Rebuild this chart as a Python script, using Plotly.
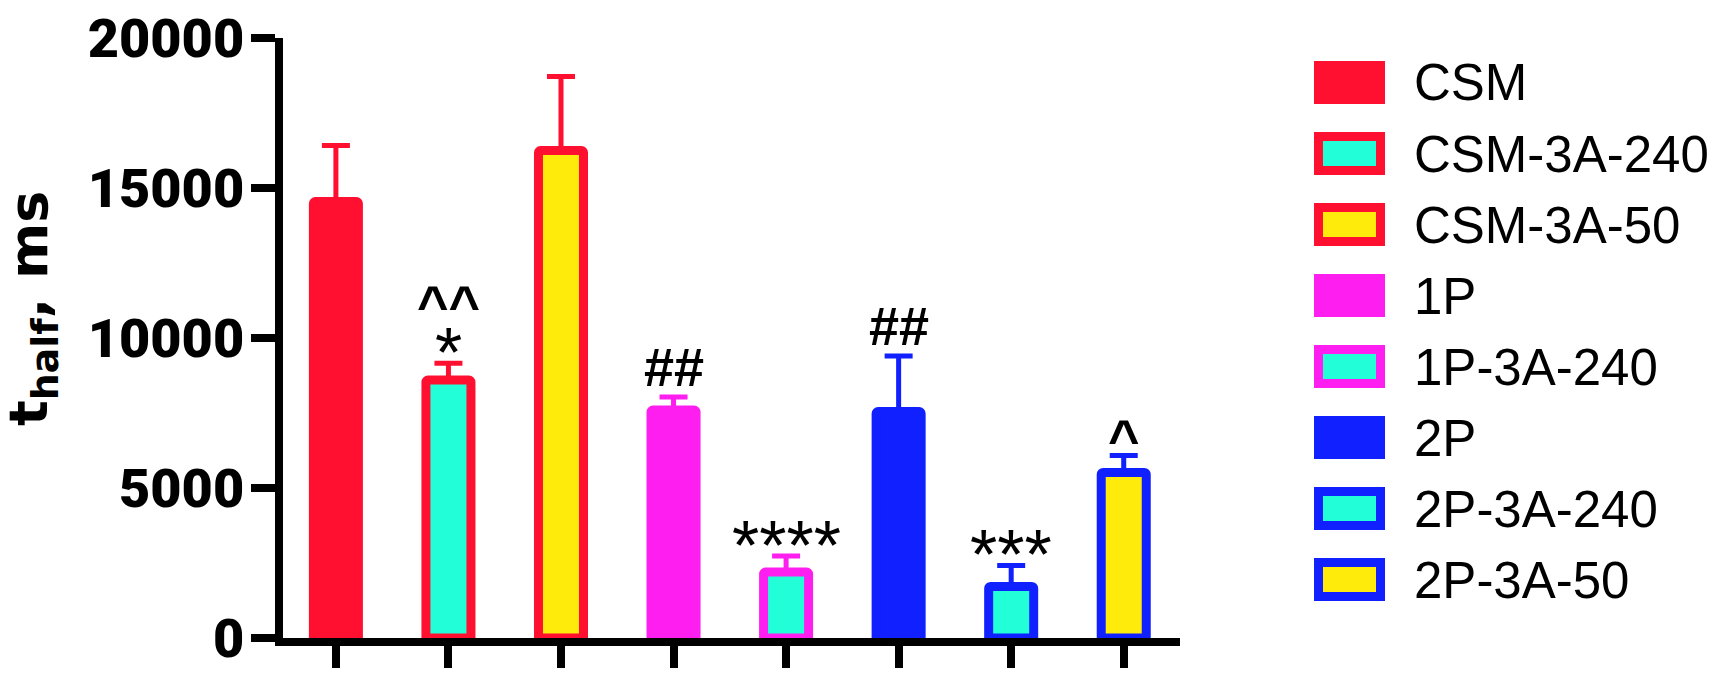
import plotly.graph_objects as go

# data
categories = ["CSM", "CSM-3A-240", "CSM-3A-50", "1P", "1P-3A-240", "2P", "2P-3A-240", "2P-3A-50"]
means = [14550, 8600, 16250, 7600, 2200, 7550, 1720, 5520]
sems = [1870, 560, 2470, 430, 530, 1850, 700, 560]
star_marks = ["", "*", "", "", "****", "", "***", ""]
other_marks = ["", "^^", "", "##", "", "##", "", "^"]
y_ticks = [0, 5000, 10000, 15000, 20000]

RED = "#FF1030"
CYAN = "#22FFD8"
YELLOW = "#FFEB0B"
MAGENTA = "#FF1EF0"
BLUE = "#1020FF"
edge_colors = [RED, RED, RED, MAGENTA, MAGENTA, BLUE, BLUE, BLUE]
fill_colors = [RED, CYAN, YELLOW, MAGENTA, CYAN, BLUE, CYAN, YELLOW]

W, H = 1721, 678
OFF = 8  # the page body adds an 8px margin, so everything is pulled back by it
L, R, T, B = 283 - OFF, 1180 - OFF, 38 - OFF, 638 - OFF   # plot area in pixels


def px_to_paper(x, y):
    # x, y are positions in the screenshot
    x, y = x - OFF, y - OFF
    return (x - L) / (R - L), (B - y) / (B - T)


fig = go.Figure()

for cat, m, e, ec, fc in zip(categories, means, sems, edge_colors, fill_colors):
    fig.add_trace(go.Bar(
        x=[cat], y=[m], width=0.4, name=cat, showlegend=False,
        marker=dict(color=fc, line=dict(color=ec, width=9), cornerradius=2),
        error_y=dict(type="data", array=[e], arrayminus=[0], symmetric=False,
                     color=ec, thickness=5, width=14),
    ))

# significance marks
for cat, m, e, star, other in zip(categories, means, sems, star_marks, other_marks):
    top = m + e
    if star:
        fig.add_annotation(x=cat, y=top, text=star, showarrow=False, yanchor="bottom",
                           yshift=-31, font=dict(family="Liberation Sans", size=70, color="black"))
    if other:
        shift = -2 if "#" in other else -15
        if star:
            shift = 26
        fig.add_annotation(x=cat, y=top, text="<b>" + other + "</b>", showarrow=False,
                           yanchor="bottom", yshift=shift,
                           font=dict(family="Liberation Sans", size=54, color="black"))

# legend drawn by hand so the swatches match the large boxes of the original
for i, (cat, ec, fc) in enumerate(zip(categories, edge_colors, fill_colors)):
    top = 61 + 71 * i
    x0, y0 = px_to_paper(1314, top + 43)
    x1, y1 = px_to_paper(1385, top)
    fig.add_shape(type="rect", xref="paper", yref="paper", x0=x0, y0=y0, x1=x1, y1=y1,
                  fillcolor=ec, line=dict(width=0))
    if fc != ec:
        ix0, iy0 = px_to_paper(1323, top + 34)
        ix1, iy1 = px_to_paper(1376, top + 9)
        fig.add_shape(type="rect", xref="paper", yref="paper", x0=ix0, y0=iy0, x1=ix1, y1=iy1,
                      fillcolor=fc, line=dict(width=0))
    tx, ty = px_to_paper(1412, top + 22)
    fig.add_annotation(xref="paper", yref="paper", x=tx, y=ty, text=cat, showarrow=False,
                       xanchor="left", yanchor="middle",
                       font=dict(family="Liberation Sans", size=51, color="black"))

# y axis title
tx, ty = px_to_paper(32, 308)
fig.add_annotation(xref="paper", yref="paper", x=tx, y=ty, text="<b>t<sub>half</sub>, ms</b>",
                   showarrow=False, textangle=-90, xanchor="center", yanchor="middle",
                   font=dict(family="DejaVu Sans", size=54, color="black"))

fig.update_layout(
    width=W, height=H,
    margin=dict(l=L, r=W - R, t=T, b=H - B, autoexpand=False),
    plot_bgcolor="white", paper_bgcolor="white",
    barmode="overlay", showlegend=False,
)
fig.update_xaxes(
    type="category", categoryorder="array", categoryarray=categories, automargin=False,
    range=[-0.47, 7.5], showticklabels=False, ticks="outside", ticklen=22, tickwidth=8,
    tickcolor="black", showline=True, linewidth=8, linecolor="black", showgrid=False,
)
fig.update_yaxes(
    range=[0, 20000], tickvals=y_ticks, ticktext=[str(v) for v in y_ticks], automargin=False,
    ticks="outside", ticklen=24, tickwidth=8, ticklabelstandoff=-4, ticklabeloverflow="allow",
    tickcolor="black", showline=True, linewidth=8, linecolor="black", showgrid=False,
    zeroline=False, tickfont=dict(family="Roboto", size=54, color="black", weight=900),
)

fig.write_html("out.html")
